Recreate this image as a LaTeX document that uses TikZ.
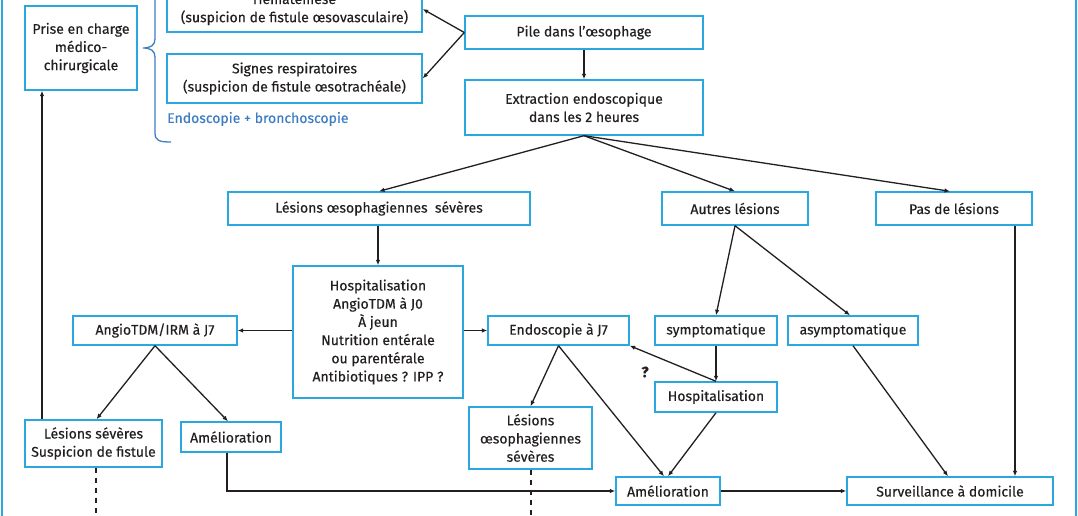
\documentclass[tikz,border=0pt]{standalone}
\usepackage{fontspec}
\setmainfont{Fira Sans}[FakeBold=0.35]
\usetikzlibrary{arrows.meta}
\definecolor{cyanb}{HTML}{29A8E0}
\definecolor{braceb}{HTML}{3C7DC4}
\definecolor{ink}{HTML}{231F20}
\tikzset{
  box/.style={draw=cyanb, line width=1.4pt, fill=white, align=center, inner sep=0pt, text=ink,
              font=\fontsize{14}{18.2}\selectfont},
  arr/.style={draw=ink, line width=1.3pt, -{Latex[length=5.5pt,width=4.5pt]}},
  dashline/.style={draw=ink, line width=1.3pt, dash pattern=on 5pt off 5pt},
}
\begin{document}
\begin{tikzpicture}[x=1pt,y=-1pt]
\useasboundingbox (0,0) rectangle (1078,516);
\clip (0,0) rectangle (1078,516);
\fill[white] (0,0) rectangle (1078,516);
% frame edges
\draw[cyanb, line width=2.5pt] (2,-5) -- (2,521);
\draw[cyanb, line width=2.5pt] (1076,-5) -- (1076,521);

% nodes
\node[box, minimum width=112pt, minimum height=84pt] (prise) at (81,48) {Prise en charge\\médico-\\chirurgicale};
\node[box, minimum width=255pt, minimum height=46pt] (hema) at (294.5,9) {Hématémèse\\(suspicion de fistule œsovasculaire)};
\node[box, minimum width=255pt, minimum height=49pt] (signes) at (294.5,78.5) {Signes respiratoires\\(suspicion de fistule œsotrachéale)};
\node[anchor=west, inner sep=0pt, text=braceb, font=\fontsize{14}{18}\selectfont] (endob) at (167,119) {Endoscopie + bronchoscopie};
\node[box, minimum width=238pt, minimum height=33pt] (pile) at (584,32.5) {Pile dans l'œsophage};
\node[box, minimum width=238pt, minimum height=55pt] (extr) at (584,107.5) {Extraction endoscopique\\dans les 2 heures};
\node[box, minimum width=302pt, minimum height=33pt] (lsev) at (379,208.5) {Lésions œsophagiennes\ \ sévères};
\node[box, minimum width=146pt, minimum height=33pt] (autres) at (735,208.5) {Autres lésions};
\node[box, minimum width=156pt, minimum height=33pt] (pas) at (954,208.5) {Pas de lésions};
\node[box, minimum width=170pt, minimum height=132pt] (hosp) at (378,332) {Hospitalisation\\AngioTDM à J0\\À jeun\\Nutrition entérale\\ou parentérale\\Antibiotiques ? IPP ?};
\node[box, minimum width=164pt, minimum height=29pt] (angio) at (155,330.5) {AngioTDM/IRM à J7};
\node[box, minimum width=141pt, minimum height=29pt] (endo7) at (558.5,330.5) {Endoscopie à J7};
\node[box, minimum width=122pt, minimum height=29pt] (sympt) at (716,330.5) {symptomatique};
\node[box, minimum width=130pt, minimum height=29pt] (asympt) at (853,330.5) {asymptomatique};
\node[box, minimum width=122pt, minimum height=30pt] (hosp2) at (716,397) {Hospitalisation};
\node[box, minimum width=137pt, minimum height=47pt] (lsusp) at (93.5,443.5) {Lésions sévères\\Suspicion de fistule};
\node[box, minimum width=100pt, minimum height=30pt] (amel1) at (231,437) {Amélioration};
\node[box, minimum width=123pt, minimum height=62pt] (lsmall) at (530.5,438) {Lésions\\œsophagiennes\\sévères};
\node[box, minimum width=104pt, minimum height=28pt] (amel2) at (668,491) {Amélioration};
\node[box, minimum width=206pt, minimum height=28pt] (surv) at (950,491) {Surveillance à domicile};
\node[font=\fontsize{15}{16}\bfseries\selectfont, text=ink, inner sep=0pt] (qm) at (645,372) {?};

% brace
\draw[braceb, line width=1.3pt] (171,142) .. controls (160,142) and (155,141) .. (155,133)
  -- (155,57) .. controls (155,51) and (151,48) .. (143,48)
  .. controls (151,48) and (155,45) .. (155,39) -- (155,-37);

% connectors
\draw[arr] (pile.west) -- (hema.east);
\draw[arr] (pile.west) -- (signes.east);
\draw[arr] (pile.south) -- (extr.north);
\draw[arr] (extr.south) -- (lsev.north);
\draw[arr] (extr.south) -- (autres.north);
\draw[arr] (extr.south) -- ([xshift=-4pt]pas.north);
\draw[arr] (lsev.south -| hosp.north) -- (hosp.north);
\draw[arr] (hosp.west |- angio.east) -- (angio.east);
\draw[arr] (hosp.east |- endo7.west) -- (endo7.west);
\draw[arr] (angio.south) -- ([xshift=3pt]lsusp.north);
\draw[arr] (angio.south) -- ([xshift=-3pt]amel1.north);
\coordinate (lx) at (42,0);
\draw[arr] (lsusp.north -| lx) -- (prise.south -| lx);
\coordinate (dx1) at (96,0);
\coordinate (bot) at (0,520);
\draw[dashline] (lsusp.south -| dx1) -- (bot -| dx1);
\coordinate (ax) at (227,0);
\draw[arr] (amel1.south -| ax) |- (amel2.west);
\draw[arr] (endo7.south) -- (lsmall.north);
\draw[arr] (endo7.south) -- ([xshift=-4pt]amel2.north);
\coordinate (dx2) at (531,0);
\draw[dashline] (lsmall.south -| dx2) -- (bot -| dx2);
\draw[arr] (autres.south) -- (sympt.north);
\draw[arr] (autres.south) -- ([xshift=-3pt]asympt.north);
\draw[arr] (sympt.south) -- (hosp2.north);
\draw[arr] (hosp2.north) -- (endo7.south east);
\draw[arr] (hosp2.south) -- (amel2.north);
\draw[arr] (asympt.south) -- ([xshift=-2pt]surv.north);
\coordinate (px) at (1015,0);
\draw[arr] (pas.south -| px) -- (surv.north -| px);
\draw[arr] (amel2.east) -- (surv.west);
\end{tikzpicture}
\end{document}
